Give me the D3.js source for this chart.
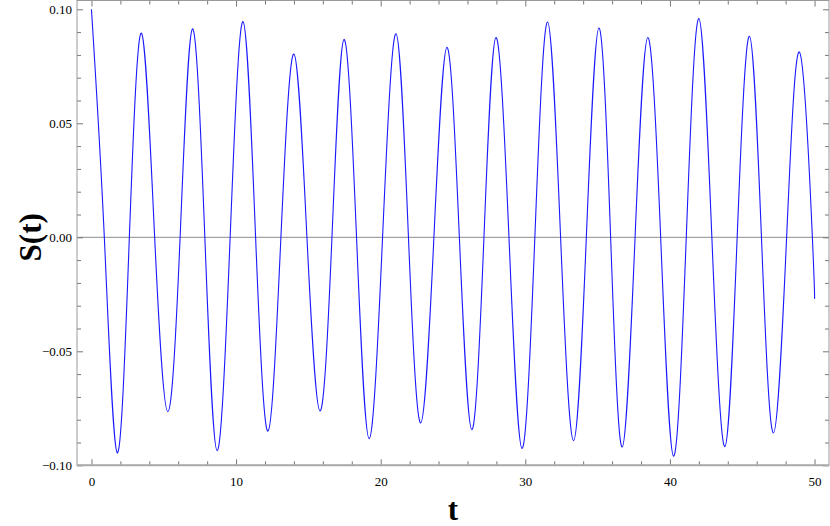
<!DOCTYPE html>
<html>
<head>
<meta charset="utf-8">
<script src="https://cdn.jsdelivr.net/npm/d3@7"></script>
<style>
  html, body { margin: 0; padding: 0; background: #fff; }
  svg { display: block; }
  .serif { font-family: "Liberation Serif", "Times New Roman", Times, "DejaVu Serif", serif; }
</style>
</head>
<body>
<svg id="chart" width="830" height="526"></svg>
<script>
// Extrema of S(t) (time, value)
const extremaT = [0, 1.78, 3.46, 5.28, 6.98, 8.69, 10.48, 12.21, 14.0, 15.8, 17.46, 19.2, 21.06, 22.77, 24.58, 26.3, 27.97, 29.77, 31.54, 33.34, 35.09, 36.7, 38.47, 40.25, 42.0, 43.8, 45.5, 47.16, 48.98, 50];
const extremaS = [0.100, -0.0945, 0.0895, -0.0765, 0.0914, -0.0936, 0.0946, -0.0850, 0.0804, -0.0762, 0.0868, -0.0883, 0.0893, -0.0814, 0.0833, -0.0844, 0.0876, -0.0926, 0.0944, -0.0892, 0.0918, -0.0920, 0.0876, -0.0960, 0.0959, -0.0918, 0.0882, -0.0858, 0.0810, -0.027];
// Zero crossings of S(t)
const crossT = [0.89, 2.62, 4.37, 6.13, 7.84, 9.59, 11.35, 13.1, 14.9, 16.63, 18.33, 20.13, 21.92, 23.68, 25.44, 27.14, 28.87, 30.66, 32.44, 34.22, 35.9, 37.59, 39.36, 41.13, 42.9, 44.65, 46.33, 48.07, 49.85];

const xMajorTicks = [0, 10, 20, 30, 40, 50];
const xMinorTicks = [2, 4, 6, 8, 12, 14, 16, 18, 22, 24, 26, 28, 32, 34, 36, 38, 42, 44, 46, 48];
const yMajorTicks = [-0.10, -0.05, 0.00, 0.05, 0.10];
const yMinorTicks = [-0.09, -0.08, -0.07, -0.06, -0.04, -0.03, -0.02, -0.01, 0.01, 0.02, 0.03, 0.04, 0.06, 0.07, 0.08, 0.09];

const xLabel = "t";
const yLabel = "S(t)";

const svg = d3.select("#chart");
const L = 77, R = 829, T = 0.5, B = 465.3;

const x = d3.scaleLinear().domain([-1, 51]).range([L, R]);
const y = d3.scaleLinear().domain([-0.1, 0.1]).range([B, 9.3]);

const pts = extremaT.map((t, i) => [t, extremaS[i]])
  .concat(crossT.map(t => [t, 0]))
  .sort((a, b) => a[0] - b[0]);

// zero line
svg.append("line")
  .attr("x1", L).attr("x2", R)
  .attr("y1", y(0)).attr("y2", y(0))
  .attr("stroke", "#8c8c8c").attr("stroke-width", 1);

// curve
const line = d3.line().x(d => x(d[0])).y(d => y(d[1])).curve(d3.curveNatural);
svg.append("path")
  .datum(pts)
  .attr("d", line)
  .attr("fill", "none")
  .attr("stroke", "#1a1aff")
  .attr("stroke-width", 1.1);

const tickColor = "#777";
const fmtY = v => (v < 0 ? "\u2212" : "") + Math.abs(v).toFixed(2);

function styleAxis(g) {
  g.attr("font-family", null).attr("font-size", null).attr("class", "serif");
  g.select(".domain").remove();
  g.selectAll(".tick line").attr("stroke", tickColor);
  g.selectAll(".tick text")
    .attr("fill", "#000")
    .attr("class", "serif")
    .style("font-size", "13px");
}

// bottom axis
svg.append("g").attr("transform", `translate(0,${B})`)
  .call(d3.axisBottom(x).tickValues(xMajorTicks).tickSizeInner(-6).tickSizeOuter(0).tickPadding(11).tickFormat(d3.format("d")))
  .call(styleAxis);
svg.append("g").attr("transform", `translate(0,${B})`)
  .call(d3.axisBottom(x).tickValues(xMinorTicks).tickSizeInner(-4).tickSizeOuter(0).tickFormat(""))
  .call(styleAxis);
// top axis
svg.append("g").attr("transform", `translate(0,${T})`)
  .call(d3.axisTop(x).tickValues(xMajorTicks).tickSizeInner(-6).tickSizeOuter(0).tickFormat(""))
  .call(styleAxis);
svg.append("g").attr("transform", `translate(0,${T})`)
  .call(d3.axisTop(x).tickValues(xMinorTicks).tickSizeInner(-4).tickSizeOuter(0).tickFormat(""))
  .call(styleAxis);
// left axis
svg.append("g").attr("transform", `translate(${L},0)`)
  .call(d3.axisLeft(y).tickValues(yMajorTicks).tickSizeInner(-6).tickSizeOuter(0).tickPadding(5).tickFormat(fmtY))
  .call(styleAxis);
svg.append("g").attr("transform", `translate(${L},0)`)
  .call(d3.axisLeft(y).tickValues(yMinorTicks).tickSizeInner(-4).tickSizeOuter(0).tickFormat(""))
  .call(styleAxis);
// right axis
svg.append("g").attr("transform", `translate(${R},0)`)
  .call(d3.axisRight(y).tickValues(yMajorTicks).tickSizeInner(-6).tickSizeOuter(0).tickFormat(""))
  .call(styleAxis);
svg.append("g").attr("transform", `translate(${R},0)`)
  .call(d3.axisRight(y).tickValues(yMinorTicks).tickSizeInner(-4).tickSizeOuter(0).tickFormat(""))
  .call(styleAxis);

// frame
svg.append("rect")
  .attr("x", L).attr("y", T)
  .attr("width", R - L).attr("height", B - T)
  .attr("fill", "none")
  .attr("stroke", "#999").attr("stroke-width", 1);
svg.append("line")
  .attr("x1", L).attr("x2", R).attr("y1", B).attr("y2", B)
  .attr("stroke", "#aaa").attr("stroke-width", 2);

// axis labels
svg.append("text")
  .attr("class", "serif")
  .attr("x", x(25)).attr("y", 520)
  .attr("text-anchor", "middle")
  .style("font-weight", "bold")
  .style("font-size", "31px")
  .text(xLabel);

svg.append("text")
  .attr("class", "serif")
  .attr("transform", `translate(41,${y(0)}) rotate(-90)`)
  .attr("text-anchor", "middle")
  .style("font-weight", "bold")
  .style("font-size", "31px")
  .text(yLabel);
</script>
</body>
</html>
